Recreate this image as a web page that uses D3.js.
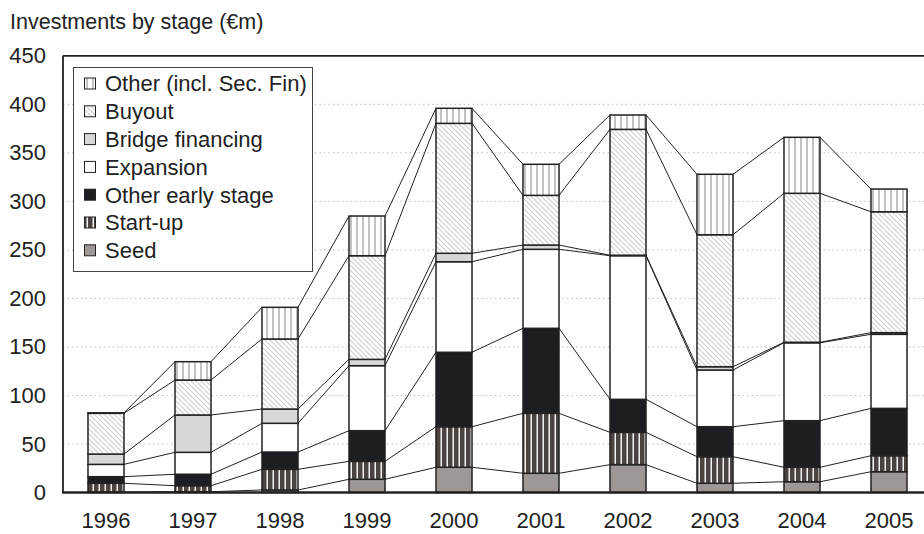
<!DOCTYPE html>
<html><head><meta charset="utf-8">
<script src="https://cdn.jsdelivr.net/npm/d3@7"></script>
<style>
body{margin:0;background:#fff;}
text{font-family:"Liberation Sans",Arial,sans-serif;fill:#222;}
</style></head>
<body><svg id="c" width="924" height="534"></svg>
<script>
const years = ["1996","1997","1998","1999","2000","2001","2002","2003","2004","2005"];
const seriesNames = ["Seed","Start-up","Other early stage","Expansion","Bridge financing","Buyout","Other (incl. Sec. Fin)"];
const seed       = [0.5, 0.8, 2.6, 13.6, 26.0, 19.8, 28.7, 9.5, 11.1, 21.4];
const startUp    = [9.0, 6.2, 21.3, 18.5, 41.8, 61.8, 33.3, 27.4, 14.9, 16.5];
const otherEarly = [6.8, 11.8, 17.8, 31.6, 76.7, 87.6, 34.0, 30.9, 48.0, 48.8];
const expansion  = [12.7, 22.6, 29.6, 67.0, 93.3, 81.4, 148.0, 58.4, 80.3, 76.3];
const bridge     = [10.6, 38.5, 14.7, 6.5, 8.7, 4.4, 0.5, 3.4, 0.5, 1.7];
const buyout     = [42.0, 36.0, 72.2, 106.8, 133.9, 51.2, 129.7, 136.0, 153.5, 124.6];
const otherSec   = [0.5, 18.9, 32.6, 40.9, 15.5, 32.0, 14.8, 62.3, 57.7, 23.4];
const yTicks = [0,50,100,150,200,250,300,350,400,450];
const title = "Investments by stage (€m)";

const seriesVals = [seed,startUp,otherEarly,expansion,bridge,buyout,otherSec];
const fills = ["#9d9795","url(#pStart)","#1d1e21","#ffffff","#d8d8d8","url(#pBuy)","url(#pOther)"];

const svg = d3.select("#c");
const defs = svg.append("defs");
let p = defs.append("pattern").attr("id","pOther").attr("patternUnits","userSpaceOnUse").attr("width",6).attr("height",6);
p.append("rect").attr("width",6).attr("height",6).attr("fill","#fff");
p.append("rect").attr("x",2).attr("width",2).attr("height",6).attr("fill","#c2c2c2");
p = defs.append("pattern").attr("id","pStart").attr("patternUnits","userSpaceOnUse").attr("width",6).attr("height",6);
p.append("rect").attr("width",6).attr("height",6).attr("fill","#4a4340");
p.append("rect").attr("x",2.5).attr("width",1.5).attr("height",6).attr("fill","#f2f2f2");
p = defs.append("pattern").attr("id","pBuy").attr("patternUnits","userSpaceOnUse").attr("width",5).attr("height",5);
p.append("rect").attr("width",5).attr("height",5).attr("fill","#fff");
p.append("path").attr("d","M-1,-1L6,6M-1,4L1,6M4,-1L6,1").attr("stroke","#cfcfcf").attr("stroke-width",1.1);

const x = d3.scaleBand().domain(years).range([62.5,932.5]).paddingInner(0.586).paddingOuter(0.293);
const y = d3.scaleLinear().domain([0,450]).range([492.5,55.8]);

// title
svg.append("text").attr("x",10).attr("y",29).attr("font-size",21.5).text(title);

// gridlines
svg.append("g").selectAll("line").data(yTicks.filter(t=>t>0&&t<450)).join("line")
  .attr("x1",63).attr("x2",924).attr("y1",d=>y(d)).attr("y2",d=>y(d))
  .attr("stroke","#bdbdbd").attr("stroke-width",1).attr("stroke-dasharray","1.5,3");

// y axis labels
const ya = svg.append("g").attr("transform","translate(63,0)")
  .call(d3.axisLeft(y).tickValues(yTicks).tickSize(0).tickPadding(17).tickFormat(d3.format("d")));
ya.select(".domain").remove();
ya.selectAll("text").attr("font-size",22).attr("font-family","Liberation Sans, Arial, sans-serif").attr("fill","#222");

// stack
const table = years.map((yr,i)=>{const o={year:yr}; seriesNames.forEach((s,k)=>o[s]=seriesVals[k][i]); return o;});
const stacked = d3.stack().keys(seriesNames)(table);

// connectors
const bw = x.bandwidth();
const conn = svg.append("g");
stacked.forEach(layer=>{
  for(let i=0;i<years.length-1;i++){
    conn.append("line")
      .attr("x1",x(years[i])+bw).attr("y1",y(layer[i][1]))
      .attr("x2",x(years[i+1])).attr("y2",y(layer[i+1][1]))
      .attr("stroke","#222").attr("stroke-width",1);
  }
});

// bars
stacked.forEach((layer,k)=>{
  svg.append("g").selectAll("rect").data(layer).join("rect")
    .attr("x",d=>x(d.data.year)).attr("width",bw)
    .attr("y",d=>y(d[1])).attr("height",d=>y(d[0])-y(d[1]))
    .attr("fill",fills[k]).attr("stroke","#222").attr("stroke-width",1.5);
});

// frame
svg.append("line").attr("x1",63).attr("x2",924).attr("y1",y(450)).attr("y2",y(450)).attr("stroke","#222").attr("stroke-width",1.8);
svg.append("line").attr("x1",63).attr("x2",63).attr("y1",y(450)).attr("y2",y(0)).attr("stroke","#222").attr("stroke-width",1.8);
svg.append("line").attr("x1",62).attr("x2",924).attr("y1",y(0)).attr("y2",y(0)).attr("stroke","#222").attr("stroke-width",2.5);

// x labels
const xa = svg.append("g").attr("transform","translate(0,"+y(0)+")")
  .call(d3.axisBottom(x).tickSize(0).tickPadding(20));
xa.select(".domain").remove();
xa.selectAll("text").attr("font-size",22).attr("font-family","Liberation Sans, Arial, sans-serif").attr("fill","#222");

// legend
const lg = svg.append("g");
lg.append("rect").attr("x",73.5).attr("y",67.5).attr("width",239).attr("height",204)
  .attr("fill","#fff").attr("stroke","#444").attr("stroke-width",1);
const legOrder = seriesNames.slice().reverse();
legOrder.forEach((s,i)=>{
  const k = seriesNames.indexOf(s);
  const cy = 83.5 + i*27.8;
  lg.append("rect").attr("x",84.5).attr("y",cy-5.5).attr("width",11).attr("height",11)
    .attr("fill",fills[k]).attr("stroke","#222").attr("stroke-width",1);
  lg.append("text").attr("x",105).attr("y",cy).attr("dy","0.36em").attr("font-size",22).text(s);
});
</script></body></html>
